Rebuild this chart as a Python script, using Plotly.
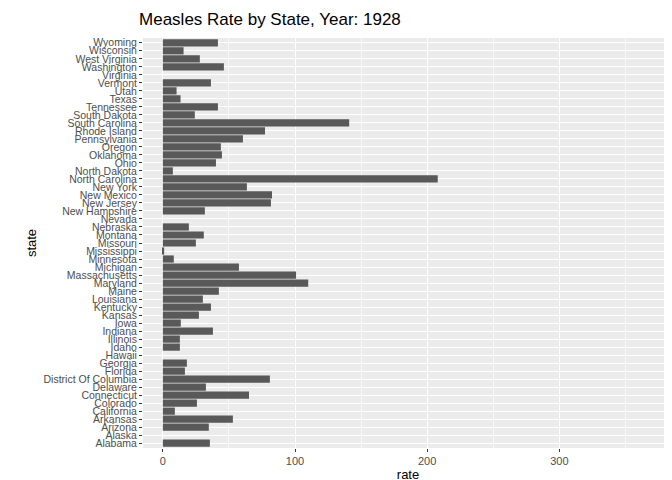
import plotly.graph_objects as go

states = ["Alabama", "Alaska", "Arizona", "Arkansas", "California", "Colorado", "Connecticut",
          "Delaware", "District Of Columbia", "Florida", "Georgia", "Hawaii", "Idaho", "Illinois",
          "Indiana", "Iowa", "Kansas", "Kentucky", "Louisiana", "Maine", "Maryland",
          "Massachusetts", "Michigan", "Minnesota", "Mississippi", "Missouri", "Montana",
          "Nebraska", "Nevada", "New Hampshire", "New Jersey", "New Mexico", "New York",
          "North Carolina", "North Dakota", "Ohio", "Oklahoma", "Oregon", "Pennsylvania",
          "Rhode Island", "South Carolina", "South Dakota", "Tennessee", "Texas", "Utah",
          "Vermont", "Virginia", "Washington", "West Virginia", "Wisconsin", "Wyoming"]
rates = [35.6, None, 34.8, 53.0, 9.1, 25.8, 65.2,
         32.6, 81.0, 16.7, 18.2, None, 12.9, 12.9,
         37.9, 13.6, 27.3, 36.4, 30.3, 42.4, 110.0,
         100.8, 57.6, 8.3, 1.0, 25.0, 31.0,
         19.7, None, 31.8, 81.8, 82.6, 63.6,
         208.0, 7.6, 40.2, 44.7, 43.9, 60.6,
         77.3, 141.0, 24.2, 41.7, 13.4, 10.4,
         36.4, None, 46.2, 28.0, 15.7, 41.7]

fig = go.Figure(go.Bar(x=rates, y=states, orientation="h", marker_color="#595959",
                       marker_line_width=0, width=0.9))

fig.update_layout(
    width=672, height=480,
    margin=dict(l=135, r=7, t=30, b=40, autoexpand=False),
    paper_bgcolor="white", plot_bgcolor="#EBEBEB",
    font=dict(family="Liberation Sans, Arial", color="#4D4D4D"),
    title=dict(text="Measles Rate by State, Year: 1928", x=0.195, xanchor="left", y=0.99,
               yanchor="top", font=dict(size=17, color="black")),
    showlegend=False,
)
fig.update_xaxes(range=[-15, 386], tickvals=[0, 100, 200, 300], gridcolor="white",
                 gridwidth=1.2, minor=dict(tickvals=[50, 150, 250, 350], gridcolor="#F7F7F7", showgrid=True),
                 ticks="outside", ticklen=3, tickcolor="#333333", zeroline=False,
                 tickfont=dict(size=11), automargin=False,
                 title=dict(text="rate", font=dict(size=13, color="black"), standoff=2))
fig.update_yaxes(categoryorder="array", categoryarray=states, range=[-0.6, 50.6],
                 tickmode="array", tickvals=states, ticktext=states,
                 gridcolor="white", ticks="outside", ticklen=3, tickcolor="#333333",
                 tickfont=dict(size=10.5), automargin=False,
                 title=dict(text="state", font=dict(size=13, color="black"), standoff=3))

fig.write_html("out.html")
